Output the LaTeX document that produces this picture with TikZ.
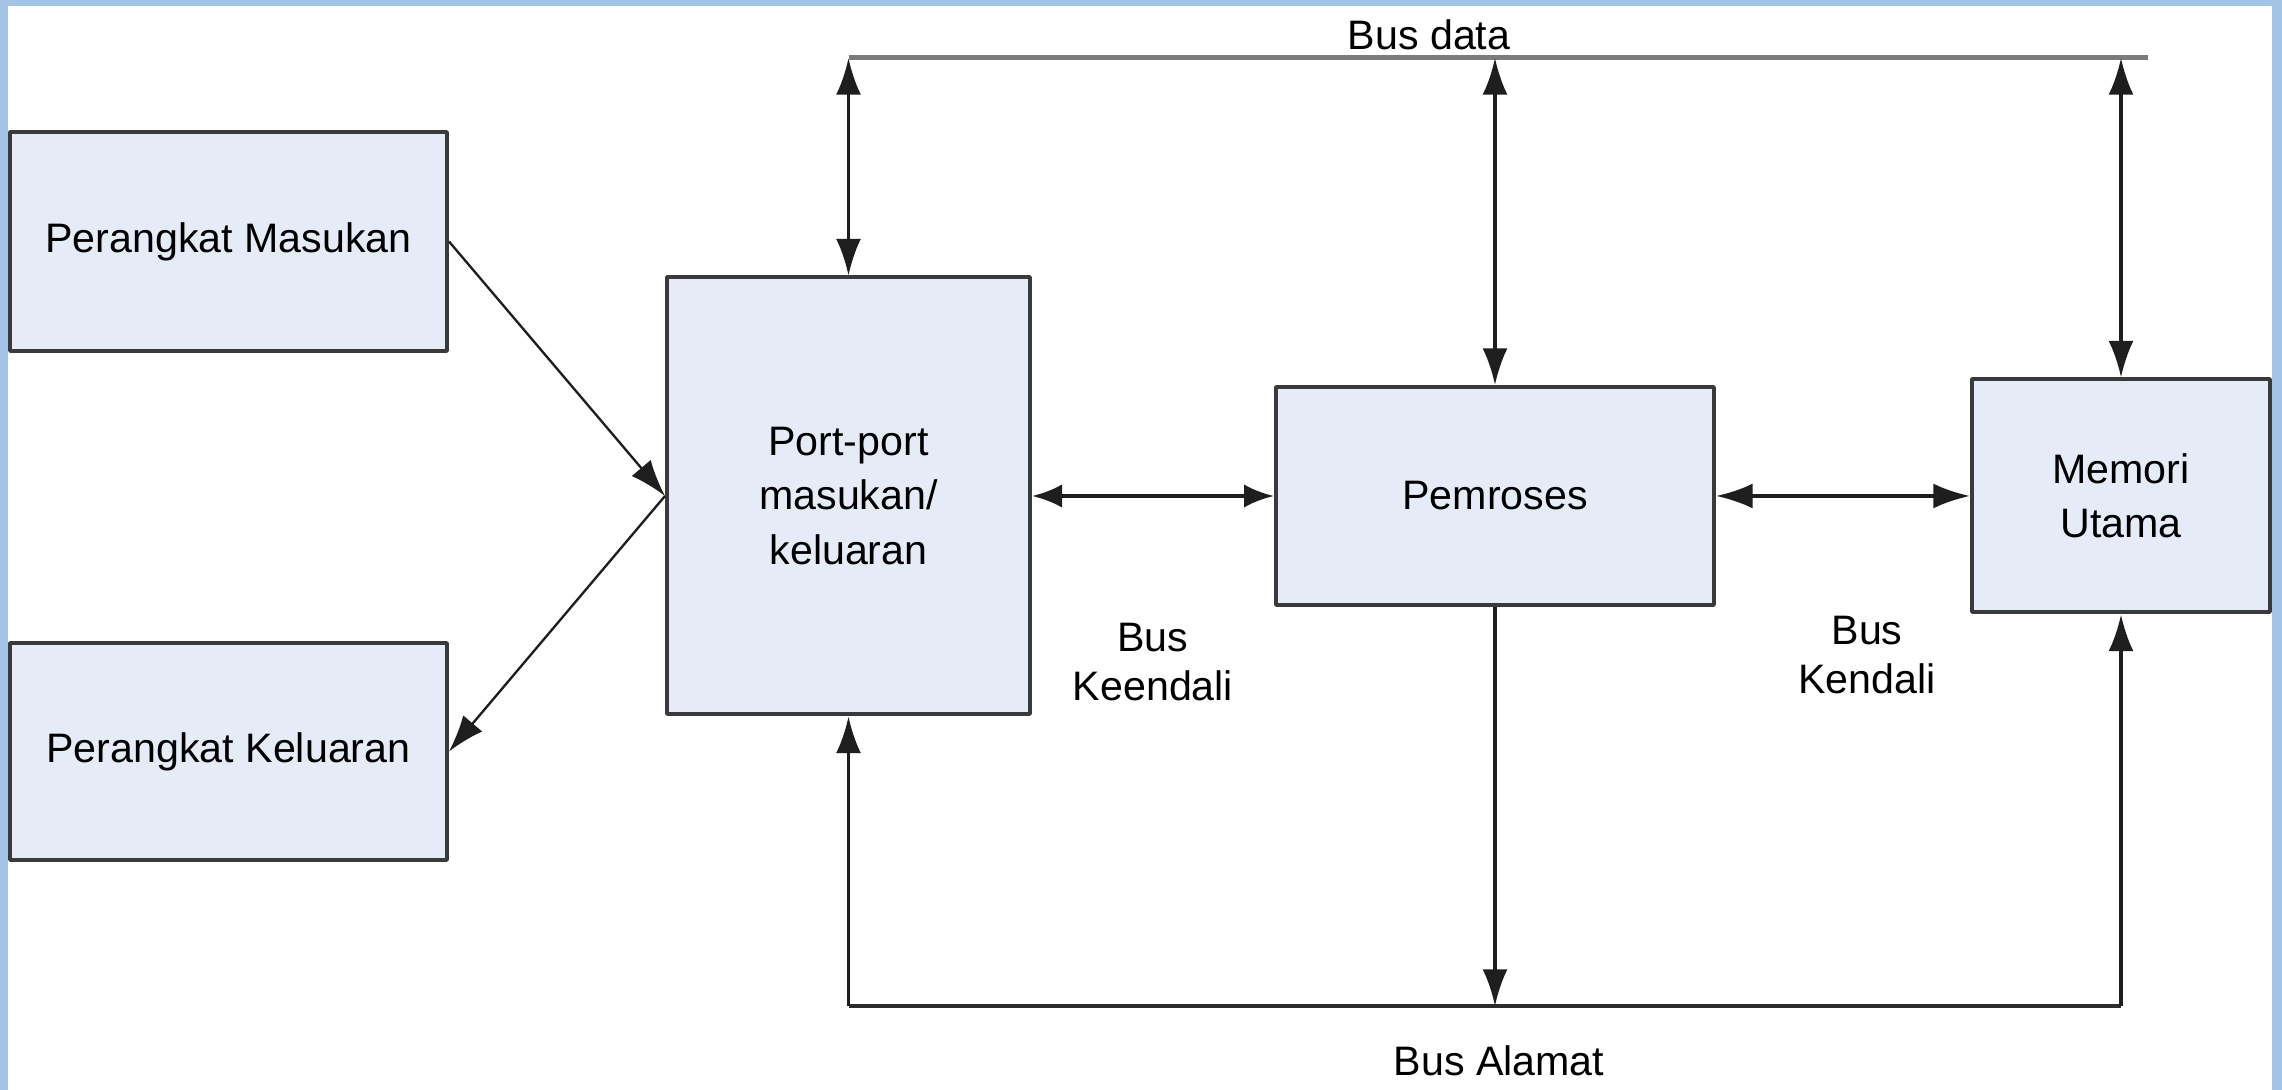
\documentclass[tikz,border=0pt]{standalone}
\usepackage{fontspec}
\setmainfont{Liberation Sans}
\usetikzlibrary{arrows.meta}
\definecolor{framebg}{HTML}{A3C4E7}
\definecolor{boxfill}{HTML}{E6ECF7}
\definecolor{boxline}{HTML}{3A3A3A}
\definecolor{busline}{HTML}{1E1E1E}
\definecolor{datagray}{HTML}{7C7C7C}
\tikzset{
  unitbox/.style={draw=boxline,fill=boxfill,line width=1.2bp,inner sep=0pt,align=center,
    font=\fontsize{12.4}{16.4}\selectfont},
  buslabel/.style={draw=none,inner sep=0pt,align=center,font=\fontsize{12.4}{15}\selectfont},
}
\begin{document}
\begin{tikzpicture}[>={Latex[length=11bp,width=7.5bp]},line join=bevel,]
%%
\useasboundingbox (0bp,0bp) rectangle (684.6bp,327bp);
\fill [framebg] (0bp,0bp) rectangle (684.6bp,327bp);
\fill [white] (2.4bp,0bp) rectangle (681.6bp,325.2bp);
%
\node (node_masukan) at (68.55bp,254.55bp) [unitbox,minimum width=131.1bp,minimum height=65.7bp] {Perangkat Masukan};
  \node (node_keluaran) at (68.55bp,101.55bp) [unitbox,minimum width=131.1bp,minimum height=65.1bp] {Perangkat Keluaran};
  \node (node_port) at (254.55bp,178.2bp) [unitbox,minimum width=108.9bp,minimum height=131.1bp] {Port-port\\masukan/\\keluaran};
  \node (node_pemroses) at (448.5bp,178.2bp) [unitbox,minimum width=131.4bp,minimum height=65.4bp] {Pemroses};
  \node (node_memori) at (636.3bp,178.2bp) [unitbox,minimum width=89.4bp,minimum height=69.9bp] {Memori\\Utama};
%
\coordinate (bus_data_l) at (254.55bp,309.6bp);
  \coordinate (bus_data_r) at (644.4bp,309.6bp);
  \coordinate (bus_alamat_l) at (254.55bp,25.2bp);
  \coordinate (bus_alamat_r) at (636.3bp,25.2bp);
  \node (label_data) at (428.7bp,316.6bp) [buslabel] {Bus data};
  \node (label_alamat) at (449.7bp,8.7bp) [buslabel] {Bus Alamat};
  \node (label_keendali) at (345.9bp,128.4bp) [buslabel] {Bus\\Keendali};
  \node (label_kendali) at (560.1bp,130.5bp) [buslabel] {Bus\\Kendali};
%
\draw [datagray,line width=1.5bp] (bus_data_l) -- (bus_data_r);
  \draw [busline!85!gray,line width=1.3bp] (bus_alamat_l) -- (bus_alamat_r);
  \draw [busline,line width=1bp,<->] (bus_data_l) -- (node_port.north);
  \draw [busline,line width=1bp,<->] (node_pemroses.north |- bus_data_l) -- (node_pemroses.north);
  \draw [busline,line width=1bp,<->] (node_memori.north |- bus_data_l) -- (node_memori.north);
  \draw [busline,line width=1bp,->] (bus_alamat_l) -- (node_port.south);
  \draw [busline,line width=1bp,->] (node_pemroses.south) -- (node_pemroses.south |- bus_alamat_l);
  \draw [busline,line width=1bp,->] (bus_alamat_r) -- (node_memori.south);
  \draw [busline,line width=1.2bp,{Latex[length=9bp,width=7bp]}-{Latex[length=9bp,width=7bp]}] (node_port.east) -- (node_pemroses.west);
  \draw [busline,line width=1.1bp,<->] (node_pemroses.east) -- (node_memori.west);
  \draw [busline,line width=0.7bp,->] (node_masukan.east) -- (node_port.west);
  \draw [busline,line width=0.7bp,->] (node_port.west) -- (node_keluaran.east);
%
\end{tikzpicture}
\end{document}
